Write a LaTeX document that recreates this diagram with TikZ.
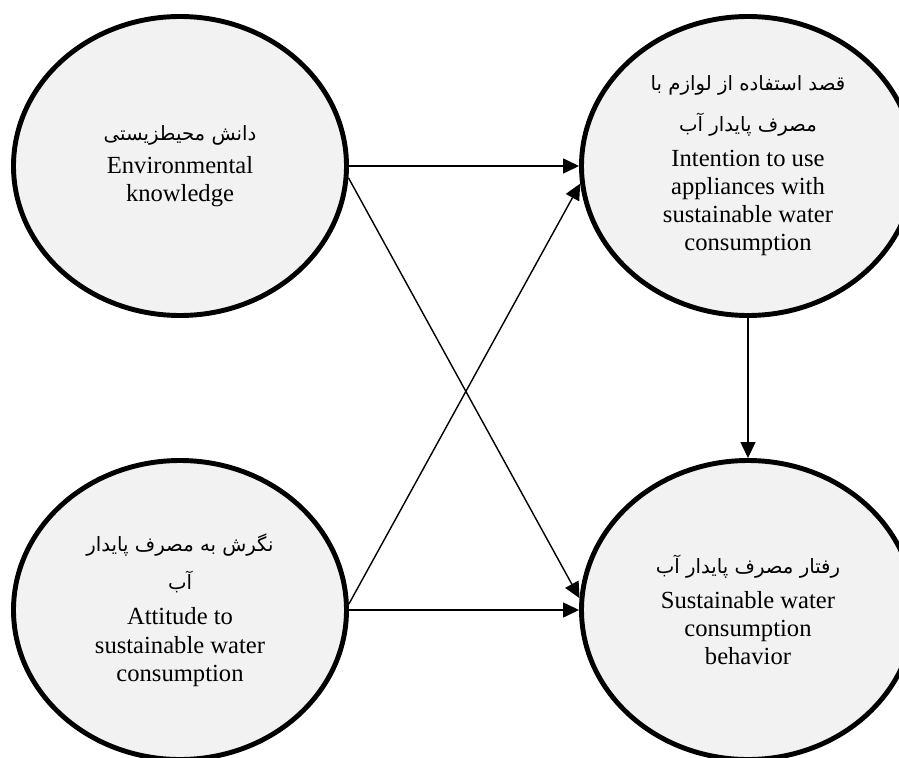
\documentclass[tikz,border=0pt]{standalone}
\usepackage{fontspec}
\setmainfont{Liberation Serif}
\newfontfamily\persiano[Script=Arabic,Scale=0.8]{DejaVu Sans}
\TeXXeTstate=1
\usetikzlibrary{shapes.geometric,arrows.meta}
\definecolor{grigio}{HTML}{F2F2F2}
\newcommand{\testofa}[1]{{\persiano\beginR #1\endR}}

\begin{document}
\begin{tikzpicture}[
        variabile/.style={ellipse,draw,line width=2.8pt,fill=grigio,minimum width=6.66cm,minimum height=5.98cm,align=center,font=\fontsize{14}{16}\selectfont},
        freccia/.style={line width=0.8pt,-{Triangle[length=3.2mm,width=3mm]}}]
        \useasboundingbox (0,0) rectangle (17.98,15.14);
        %variabili
        \node[variabile] (conoscenza) at (3.6,11.82) {\testofa{دانش محیطزیستی}\\[3pt] Environmental\\ knowledge};
        \node[variabile] (intenzione) at (14.96,11.82) {\testofa{قصد استفاده از لوازم با}\\[7pt] \testofa{مصرف پایدار آب}\\[4pt] Intention to use\\ appliances with\\ sustainable water\\ consumption};
        \node[variabile] (atteggiamento) at (3.6,2.94) {\testofa{نگرش به مصرف پایدار}\\[6pt] \testofa{آب}\\[4pt] Attitude to\\ sustainable water\\ consumption};
        \node[variabile] (comportamento) at (14.96,2.94) {\testofa{رفتار مصرف پایدار آب}\\[4pt] Sustainable water\\ consumption\\ behavior};
        %frecce
        \draw[freccia] (conoscenza.east) -- (intenzione.west);
        \draw[freccia] (conoscenza.-4) -- (comportamento.176);
        \draw[freccia] (atteggiamento.2) -- (intenzione.186);
        \draw[freccia] (atteggiamento.east) -- (comportamento.west);
        \draw[freccia] (intenzione.south) -- (comportamento.north);
    \end{tikzpicture}
\end{document}
